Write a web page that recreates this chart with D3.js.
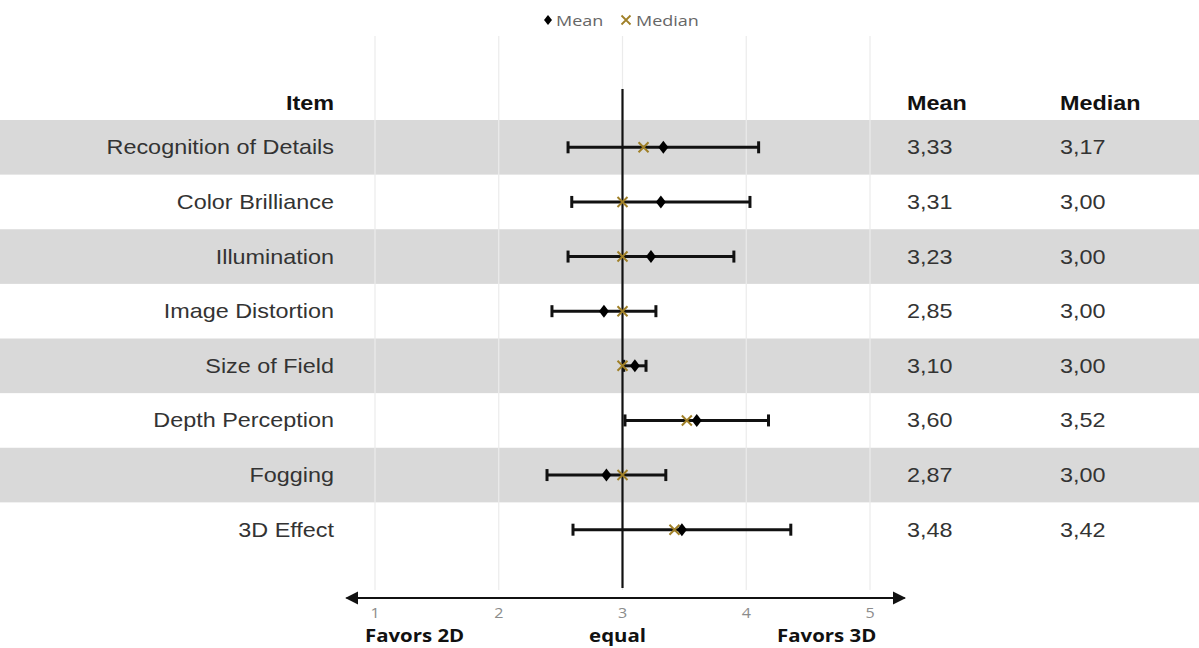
<!DOCTYPE html>
<html><head><meta charset="utf-8">
<script src="https://cdn.jsdelivr.net/npm/d3@7"></script>
<style>body{margin:0;background:#fff}svg{display:block}</style>
</head><body>
<svg id="c" width="1199" height="648"></svg>
<script>
const items = ["Recognition of Details","Color Brilliance","Illumination","Image Distortion","Size of Field","Depth Perception","Fogging","3D Effect"];
const means = [3.33,3.31,3.23,2.85,3.10,3.60,2.87,3.48];
const medians = [3.17,3.00,3.00,3.00,3.00,3.52,3.00,3.42];
const lows = [2.56,2.59,2.56,2.43,3.01,3.02,2.39,2.60];
const highs = [4.10,4.03,3.90,3.27,3.19,4.18,3.35,4.36];
const meanLabels = ["3,33","3,31","3,23","2,85","3,10","3,60","2,87","3,48"];
const medianLabels = ["3,17","3,00","3,00","3,00","3,00","3,52","3,00","3,42"];
const ticks = [1,2,3,4,5];
const axisLabels = [{v:1.32,t:"Favors 2D"},{v:2.96,t:"equal"},{v:4.65,t:"Favors 3D"}];

const svg = d3.select("#c");
const x = d3.scaleLinear().domain([1,5]).range([375,870]);
const y = d3.scaleBand().domain(items).range([120,557]).padding(0);
const FONT = "'Liberation Sans', Arial, sans-serif";
const FONT2 = "'Open Sans', 'Liberation Sans', sans-serif";
const SX = 1.17;

// stripes
svg.selectAll("rect.band").data(items.filter((d,i)=>i%2===0)).join("rect")
  .attr("x",0).attr("width",1199).attr("y",d=>y(d)).attr("height",y.bandwidth())
  .attr("fill","#d9d9d9");

// gridlines
svg.selectAll("line.grid").data(ticks).join("line")
  .attr("x1",d=>x(d)).attr("x2",d=>x(d)).attr("y1",36).attr("y2",590)
  .attr("stroke","#ebebeb").attr("stroke-width",1.2);

// center axis line
svg.append("line").attr("x1",x(3)).attr("x2",x(3)).attr("y1",89).attr("y2",588)
  .attr("stroke","#111").attr("stroke-width",2.2);

// arrow axis
const defs = svg.append("defs");
defs.append("marker").attr("id","ah").attr("viewBox","0 0 10 10").attr("refX",9).attr("refY",5)
  .attr("markerWidth",6).attr("markerHeight",6).attr("orient","auto-start-reverse")
  .attr("markerUnits","strokeWidth")
  .append("path").attr("d","M0,0 L10,5 L0,10 Z").attr("fill","#111");
svg.append("line").attr("x1",x(0.77)).attr("x2",x(5.28)).attr("y1",598).attr("y2",598)
  .attr("stroke","#111").attr("stroke-width",2.2)
  .attr("marker-start","url(#ah)").attr("marker-end","url(#ah)");

svg.selectAll("text.tick").data(ticks).join("text")
  .attr("transform",d=>`translate(${x(d)},618) scale(1.15,1)`).attr("text-anchor","middle")
  .attr("font-family",FONT2).attr("font-size",14).attr("fill","#8c8c8c").text(d=>d);
svg.selectAll("text.al").data(axisLabels).join("text")
  .attr("transform",d=>`translate(${x(d.v)},642) scale(1.2,1)`).attr("text-anchor","middle")
  .attr("font-family",FONT2).attr("font-weight","bold").attr("font-size",17).attr("fill","#111").text(d=>d.t);

// headers
const hdr = svg.append("g").attr("font-family",FONT).attr("font-weight","bold").attr("font-size",20).attr("fill","#111");
hdr.append("text").attr("transform",`translate(334,110) scale(${SX},1)`).attr("text-anchor","end").text("Item");
hdr.append("text").attr("transform",`translate(907,110) scale(${SX},1)`).text("Mean");
hdr.append("text").attr("transform",`translate(1060,110) scale(${SX},1)`).text("Median");

// row labels and values
const rows = svg.selectAll("g.row").data(items).join("g")
  .attr("transform",d=>`translate(0,${y(d)+y.bandwidth()/2})`);
rows.append("text").attr("transform",`translate(334,7) scale(${SX},1)`).attr("text-anchor","end")
  .attr("font-family",FONT).attr("font-size",20).attr("fill","#333").text(d=>d);
rows.append("text").attr("transform",`translate(907,7) scale(${SX},1)`)
  .attr("font-family",FONT).attr("font-size",20).attr("fill","#333").text((d,i)=>meanLabels[i]);
rows.append("text").attr("transform",`translate(1060,7) scale(${SX},1)`)
  .attr("font-family",FONT).attr("font-size",20).attr("fill","#333").text((d,i)=>medianLabels[i]);

// error bars
rows.append("line").attr("x1",(d,i)=>x(lows[i])).attr("x2",(d,i)=>x(highs[i]))
  .attr("stroke","#111").attr("stroke-width",3);
rows.append("line").attr("x1",(d,i)=>x(lows[i])).attr("x2",(d,i)=>x(lows[i])).attr("y1",-6).attr("y2",6)
  .attr("stroke","#111").attr("stroke-width",3);
rows.append("line").attr("x1",(d,i)=>x(highs[i])).attr("x2",(d,i)=>x(highs[i])).attr("y1",-6).attr("y2",6)
  .attr("stroke","#111").attr("stroke-width",3);

// median X
const medColor = "#a08028";
rows.append("path").attr("transform",(d,i)=>`translate(${x(medians[i])},0)`)
  .attr("d","M-5,-5L5,5M-5,5L5,-5").attr("stroke",medColor).attr("stroke-width",2);
// mean diamond
rows.append("path").attr("transform",(d,i)=>`translate(${x(means[i])},0)`)
  .attr("d","M0,-6.5L5,0L0,6.5L-5,0Z").attr("fill","#000");

// legend
const lg = svg.append("g").attr("font-family",FONT2).attr("font-size",15).attr("fill","#666");
lg.append("path").attr("transform","translate(548,20)").attr("d","M0,-5L4,0L0,5L-4,0Z").attr("fill","#000");
lg.append("text").attr("transform","translate(556,26) scale(1.2,1)").text("Mean");
lg.append("path").attr("transform","translate(626,20)").attr("d","M-4.5,-4.5L4.5,4.5M-4.5,4.5L4.5,-4.5").attr("stroke",medColor).attr("stroke-width",1.8);
lg.append("text").attr("transform","translate(636,26) scale(1.2,1)").text("Median");
</script>
</body></html>
